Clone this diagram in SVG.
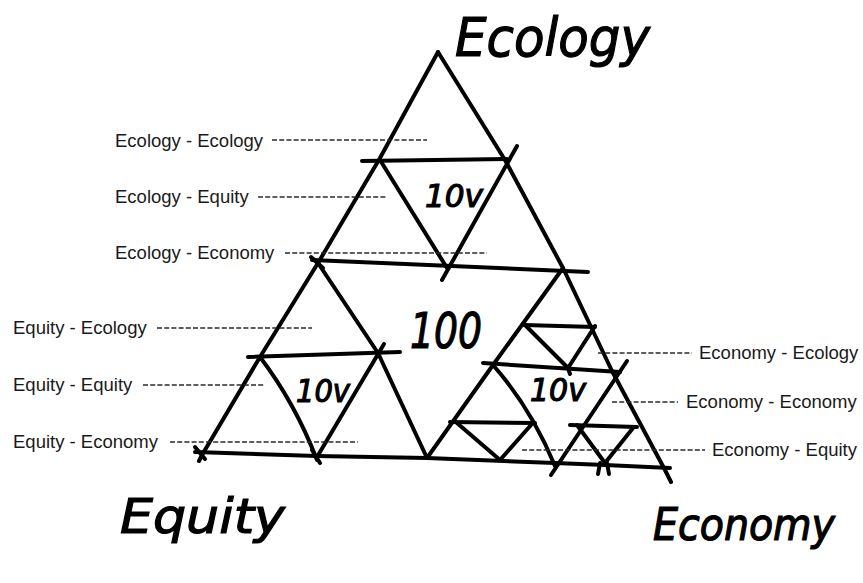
<svg xmlns="http://www.w3.org/2000/svg" width="863" height="583" viewBox="0 0 863 583">
<style>
.s{fill:none;stroke:#000;stroke-width:4;stroke-linecap:round;stroke-linejoin:round}
.d{stroke:#2a2a2a;stroke-width:1.4;stroke-dasharray:5 2.2}
.lbl{font-family:"Liberation Sans",Arial,sans-serif;font-size:18.5px;fill:#1a1a1a}
.hw{font-family:"DejaVu Sans",sans-serif;font-style:oblique;fill:#000;stroke:#000;stroke-width:1.2}
</style>
<rect width="863" height="583" fill="#fff"/>
<g id="triangle">
<polyline class="s" points="438,52 380,158 318,263 260,357 202,455 199,461"/>
<polyline class="s" points="438,52 505,160 563,268 612,371 665,470 671,482"/>
<polyline class="s" points="195,452 317,456 427,458 555,463 605,465 670,468"/>
<line class="s" x1="312" y1="260" x2="588" y2="272"/>
<line class="s" x1="362" y1="161" x2="507" y2="159"/>
<line class="s" x1="380" y1="160" x2="447" y2="268"/>
<line class="s" x1="442" y1="280" x2="517" y2="146"/>
<polyline class="s" points="318,263 378,353 427,458"/>
<polyline class="s" points="563,268 493,365 427,458"/>
<line class="s" x1="248" y1="357" x2="400" y2="352"/>
<path class="s" d="M260,357 Q295,403 317,460"/>
<line class="s" x1="384" y1="344" x2="317" y2="457"/>
<line class="s" x1="483" y1="363" x2="620" y2="372"/>
<path class="s" d="M493,365 Q531,408 555,466"/>
<line class="s" x1="551" y1="475" x2="627" y2="361"/>
<line class="s" x1="524" y1="325" x2="595" y2="327"/>
<polyline class="s" points="525,325 568,368 595,326"/>
<line class="s" x1="568" y1="368" x2="570" y2="374"/>
<line class="s" x1="450" y1="422" x2="535" y2="423"/>
<polyline class="s" points="457,423 500,460 531,425"/>
<line class="s" x1="570" y1="425" x2="637" y2="427"/>
<polyline class="s" points="577,425 605,463 633,428"/>
<line class="s" x1="598" y1="474" x2="600" y2="463"/>
<line class="s" x1="609" y1="474" x2="607" y2="463"/>
<line class="s" x1="311" y1="257" x2="323" y2="268"/>
<line class="s" x1="312" y1="450" x2="320" y2="463"/>
<line class="s" x1="195" y1="447" x2="205" y2="459"/>
</g>
<g id="dashes">
<line class="d" x1="272" y1="140" x2="427" y2="140"/>
<line class="d" x1="258" y1="197" x2="386" y2="197"/>
<line class="d" x1="285" y1="253" x2="487" y2="253"/>
<line class="d" x1="157" y1="328" x2="312" y2="328"/>
<line class="d" x1="143" y1="385" x2="265" y2="385"/>
<line class="d" x1="170" y1="442" x2="358" y2="442"/>
<line class="d" x1="598" y1="353" x2="692" y2="353"/>
<line class="d" x1="612" y1="402" x2="678" y2="402"/>
<line class="d" x1="522" y1="450" x2="705" y2="450"/>
</g>
<g id="labels">
<text class="lbl" x="115" y="147">Ecology - Ecology</text>
<text class="lbl" x="115" y="203">Ecology - Equity</text>
<text class="lbl" x="115" y="259">Ecology - Economy</text>
<text class="lbl" x="13" y="334">Equity - Ecology</text>
<text class="lbl" x="13" y="391">Equity - Equity</text>
<text class="lbl" x="13" y="448">Equity - Economy</text>
<text class="lbl" x="699" y="359">Economy - Ecology</text>
<text class="lbl" x="686" y="408">Economy - Economy</text>
<text class="lbl" x="712" y="456">Economy - Equity</text>
</g>
<g id="handwriting">
<text class="hw" x="455" y="56" font-size="54" textLength="195" lengthAdjust="spacingAndGlyphs">Ecology</text>
<text class="hw" x="120" y="533" font-size="48" textLength="165" lengthAdjust="spacingAndGlyphs">Equity</text>
<text class="hw" x="653" y="540" font-size="44" textLength="182" lengthAdjust="spacingAndGlyphs">Economy</text>
<text class="hw" x="446" y="348" font-size="50" text-anchor="middle" textLength="72" lengthAdjust="spacingAndGlyphs">100</text>
<text class="hw" x="454" y="207" font-size="32" text-anchor="middle" textLength="58" lengthAdjust="spacingAndGlyphs">10v</text>
<text class="hw" x="323" y="402" font-size="32" text-anchor="middle" textLength="54" lengthAdjust="spacingAndGlyphs">10v</text>
<text class="hw" x="558" y="401" font-size="32" text-anchor="middle" textLength="56" lengthAdjust="spacingAndGlyphs">10v</text>
</g>
</svg>
